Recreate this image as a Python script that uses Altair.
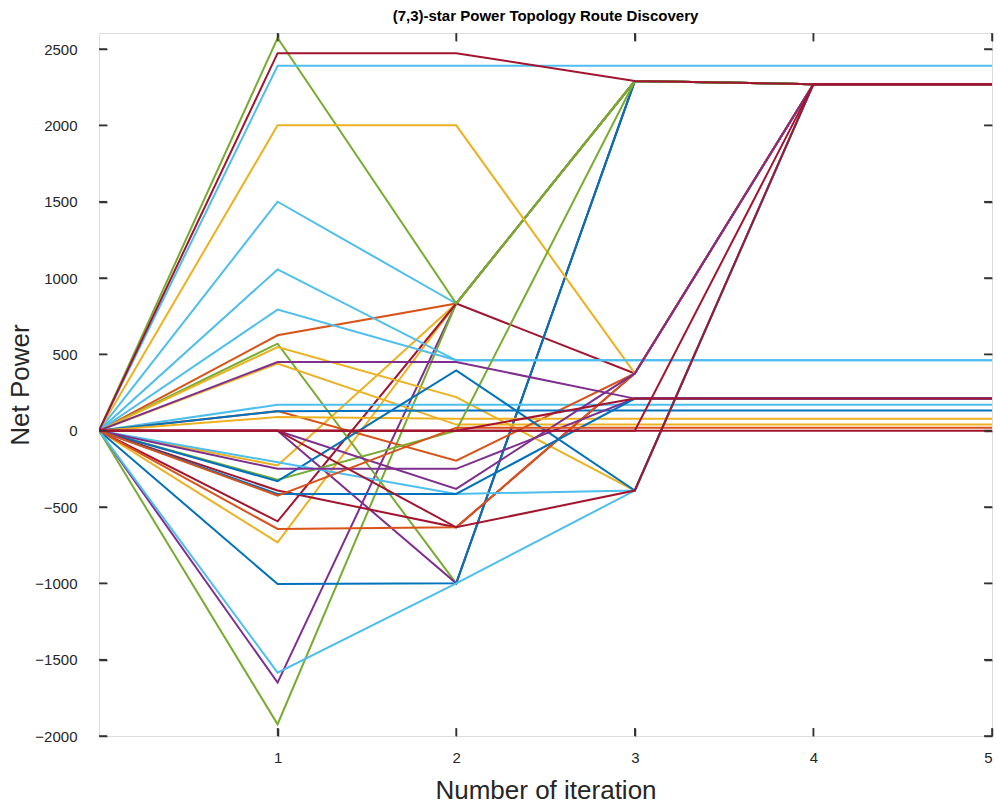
import altair as alt
import pandas as pd

# ---- data ----
iterations = [0, 1, 2, 3, 4, 5]

palette = {
    "B": "#0072BD", "O": "#D95319", "Y": "#EDB120", "P": "#7E2F8E",
    "G": "#77AC30", "C": "#4DBEEE", "R": "#A2142F",
}

# drawing order: later lines are drawn on top
line_colors = [
    "O", "C", "Y", "Y", "P", "G",
    "R", "G", "P", "B", "C",
    "G", "Y", "C", "C", "C",
    "Y", "Y", "C", "O", "B", "Y",
    "G", "B", "R", "O", "C",
    "P", "P", "B", "O", "P",
    "R", "R", "R", "R",
    "R",
]
line_values = [
    [0, 625, 833, 2290, 2270, 2270],
    [0, 1500, 833, 2290, 2270, 2270],
    [0, -228, 833, 2290, 2270, 2270],
    [0, -732, 833, 2290, 2270, 2270],
    [0, -1650, 833, 2290, 2270, 2270],
    [0, -1923, 833, 2290, 2270, 2270],
    [0, -594, 833, 375, 2270, 2270],
    [0, 570, -1000, 2290, 2270, 2270],
    [0, 0, -1000, 2290, 2270, 2270],
    [0, -1005, -1000, 2290, 2270, 2270],
    [0, -1585, -1000, -392, 2270, 2270],
    [0, 2572, 833, 2290, 2270, 2270],
    [0, 2000, 2000, 375, 2270, 2270],
    [0, 2390, 2390, 2390, 2390, 2390],
    [0, 1056, 461, 461, 461, 461],
    [0, 793, 461, 461, 461, 461],
    [0, 548, 220, -392, 2270, 2270],
    [0, 439, 40, 40, 40, 40],
    [0, 170, 170, 170, 170, 170],
    [0, 128, -196, 375, 2270, 2270],
    [0, 128, 132, 132, 132, 132],
    [0, 89, 78, 78, 78, 78],
    [0, -322, 0, 2290, 2270, 2270],
    [0, -331, 395, -392, 2270, 2270],
    [0, -392, -633, 375, 2270, 2270],
    [0, -644, -633, 375, 2270, 2270],
    [0, -207, -414, -392, 2270, 2270],
    [0, -250, -250, 210, 210, 210],
    [0, 0, -381, 375, 2270, 2270],
    [0, -414, -414, 210, 210, 210],
    [0, -425, 20, 20, 20, 20],
    [0, 450, 450, 210, 210, 210],
    [0, 0, -633, -392, 2270, 2270],
    [0, 0, 0, 0, 2270, 2270],
    [0, 0, 0, 210, 210, 210],
    [0, 0, 0, 0, 0, 0],
    [0, 2473, 2473, 2290, 2270, 2270],
]

x_ticks = [1, 2, 3, 4, 5]
y_ticks = [-2000, -1500, -1000, -500, 0, 500, 1000, 1500, 2000, 2500]

rows = []
for i, (c, vals) in enumerate(zip(line_colors, line_values)):
    for it, v in zip(iterations, vals):
        rows.append({"id": f"L{i:02d}", "iteration": it,
                     "power": v, "hex": palette[c]})
df = pd.DataFrame(rows)
xt = pd.DataFrame({"xt": x_ticks})
yt = pd.DataFrame({"yt": y_ticks})

W, H = 893, 703
FONT = "Liberation Sans"
TL = 8  # inward tick length
xscale = alt.Scale(domain=[0, 5], nice=False, zero=False)
yscale = alt.Scale(domain=[-2000, 2605], nice=False, zero=False)
tick_color = "#333333"

common = dict(domain=False, grid=False, ticks=True, tickSize=TL, offset=-TL,
              tickColor=tick_color, tickWidth=1.5)

xaxis = alt.Axis(values=x_ticks, title="Number of iteration", format="d",
                 labelFontSize=15, labelPadding=14,
                 labelColor="#262626", labelFont=FONT,
                 titleFont=FONT, titleFontSize=26,
                 titleFontWeight="normal", titleColor="#262626",
                 titlePadding=12, **common)
yaxis = alt.Axis(values=y_ticks, title="Net Power", format="d",
                 labelFontSize=15, labelPadding=14 + TL,
                 labelColor="#262626", labelFont=FONT,
                 titleFont=FONT, titleFontSize=26,
                 titleFontWeight="normal", titleColor="#262626",
                 titlePadding=1, **common)
xaxis_top = alt.Axis(values=x_ticks, orient="top", labels=False, title="",
                     **common)
yaxis_right = alt.Axis(values=y_ticks, orient="right", labels=False, title="",
                       **common)

lines = alt.Chart(df).mark_line(strokeWidth=2, clip=True).encode(
    x=alt.X("iteration:Q", scale=xscale, axis=xaxis),
    y=alt.Y("power:Q", scale=yscale, axis=yaxis),
    color=alt.Color("hex:N", scale=None),
    detail=alt.Detail("id:N"),
)

frame = alt.Chart(df).mark_point(opacity=0).encode(
    x=alt.X("iteration:Q", scale=xscale, axis=xaxis_top),
    y=alt.Y("power:Q", scale=yscale, axis=yaxis_right),
)

# inward tick marks drawn as rules as well
XT = alt.X("xt:Q", scale=xscale, axis=None)
YT = alt.Y("yt:Q", scale=yscale, axis=None)
rule = dict(color=tick_color, strokeWidth=1.5)
xb = alt.Chart(xt).mark_rule(**rule).encode(
    x=XT, y=alt.value(H), y2=alt.value(H - TL))
xtop = alt.Chart(xt).mark_rule(**rule).encode(
    x=XT, y=alt.value(0), y2=alt.value(TL))
yl = alt.Chart(yt).mark_rule(**rule).encode(
    y=YT, x=alt.value(0), x2=alt.value(TL))
yr = alt.Chart(yt).mark_rule(**rule).encode(
    y=YT, x=alt.value(W), x2=alt.value(W - TL))

chart = alt.layer(lines, frame, xb, xtop, yl, yr).resolve_axis(
    x="independent", y="independent"
).properties(
    width=W, height=H,
    title=alt.Title("(7,3)-star Power Topology Route Discovery",
                    font=FONT, fontSize=15, fontWeight="bold",
                    color="#000000", offset=8),
    autosize=alt.AutoSizeParams(type="none"),
    padding={"left": 99, "top": 33, "right": 5, "bottom": 69},
).configure_view(stroke="#666666", strokeWidth=1.5).configure(background="white")

chart.save("out.html", embed_options={"renderer": "svg", "actions": False})
